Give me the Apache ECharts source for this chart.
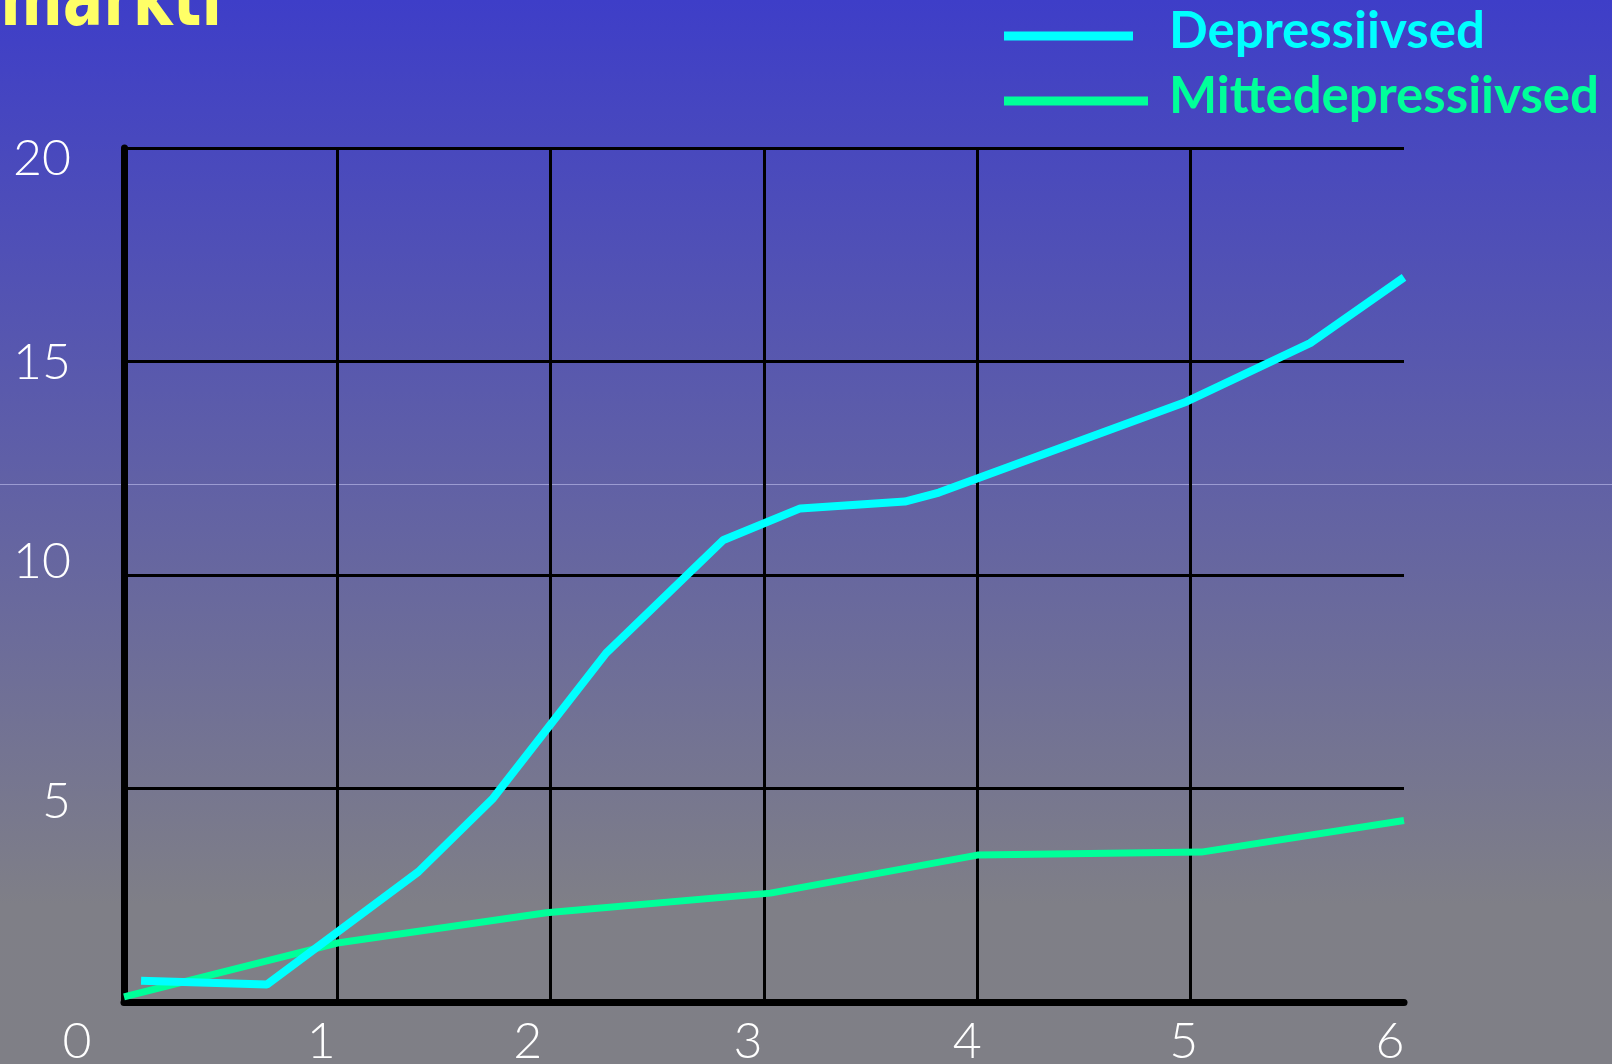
<!DOCTYPE html>
<html>
<head>
<meta charset="utf-8">
<script src="https://cdn.jsdelivr.net/npm/echarts@6/dist/echarts.min.js"></script>
<style>
  html, body { margin: 0; padding: 0; }
  #chart1 { width: 1612px; height: 1064px; }
</style>
</head>
<body>
<div id="chart1"></div>
<script>
// 数据
var seriesNames = ['Depressiivsed', 'Mittedepressiivsed'];
var depressiivsed = [
    [0.08, 0.50], [0.67, 0.41], [1.38, 3.05], [1.73, 4.77], [2.26, 8.17],
    [2.81, 10.82], [3.17, 11.56], [3.66, 11.72], [3.82, 11.93], [4.98, 14.06],
    [5.56, 15.43], [6.00, 16.97]
];
var mittedepressiivsed = [
    [0.00, 0.12], [1.00, 1.38], [1.98, 2.09], [3.03, 2.55], [4.00, 3.44],
    [5.05, 3.51], [6.00, 4.25]
];
var xTicks = [0, 1, 2, 3, 4, 5, 6];
var yTicks = [5, 10, 15, 20];

var numFont = 'Lato';

// 刻度标签的微调
var xShift = { 0: 94, 1: 32, 2: 46, 3: 32, 4: 20, 5: 14, 6: 28 };
var yShift = { 5: [27, 0, 0, 0], 10: [0, 0, 27, 0], 15: [3, 0, 0, 0], 20: [22, 0, 0, 0] };

var xRich = {};
xTicks.forEach(function (v) {
    xRich['x' + v] = {
        fontFamily: numFont, fontWeight: 300, fontSize: 50, color: '#ffffff',
        padding: [0, xShift[v], 0, 0]
    };
});
var yRich = {};
yTicks.forEach(function (v) {
    yRich['y' + v] = {
        fontFamily: numFont, fontWeight: 300, fontSize: 50, color: '#ffffff',
        padding: yShift[v]
    };
});

// 图例线条略低于文字
function barIcon(w) {
    return 'path://M0,0 M0,9 L' + w + ',9 L' + w + ',18 L0,18 Z';
}

var myChart = echarts.init(document.getElementById('chart1'));
myChart.setOption({
    animation: false,
    backgroundColor: {
        type: 'linear', x: 0, y: 0, x2: 0, y2: 1,
        colorStops: [
            { offset: 0, color: '#3e3ec8' },
            { offset: 0.85, color: '#7f7f87' },
            { offset: 1, color: '#7f7f86' }
        ]
    },
    graphic: [
        {
            type: 'rect', z: -1, silent: true,
            shape: { x: 0, y: 484, width: 1612, height: 1 },
            style: { fill: 'rgba(175,175,225,0.75)' }
        },
        {
            type: 'text', x: 222, y: 44, scaleX: 0.75,
            style: {
                text: 'markti',
                fill: '#ffff66',
                font: 'bold 80px "DejaVu Sans", sans-serif',
                textAlign: 'right',
                textVerticalAlign: 'bottom'
            }
        }
    ],
    // 图例
    legend: [
        {
            data: [seriesNames[0]],
            left: 1004, top: 6,
            icon: barIcon(129), itemWidth: 129, itemHeight: 18, itemGap: 0,
            textStyle: {
                color: '#00ffff', fontFamily: 'Lato', fontWeight: 'bold', fontSize: 51,
                padding: [0, 0, 0, 31]
            },
            padding: 0
        },
        {
            data: [seriesNames[1]],
            left: 1004, top: 71,
            icon: barIcon(144), itemWidth: 144, itemHeight: 18, itemGap: 0,
            textStyle: {
                color: '#00ff99', fontFamily: 'Lato', fontWeight: 'bold', fontSize: 51,
                padding: [0, 0, 0, 16]
            },
            padding: 0
        }
    ],
    grid: { left: 124, right: 208, top: 148, bottom: 62, outerBoundsMode: 'none' },
    // x轴
    xAxis: {
        type: 'value', min: 0, max: 6, interval: 1,
        axisLine: { show: true, lineStyle: { color: '#000', width: 7 } },
        axisTick: { show: false },
        splitLine: { show: true, showMaxLine: false, lineStyle: { color: '#000', width: 3 } },
        axisLabel: {
            margin: 15,
            fontFamily: numFont, fontWeight: 300, fontSize: 50, color: '#fff',
            formatter: function (v) { return '{x' + v + '|' + v + '}'; },
            rich: xRich
        }
    },
    // y轴
    yAxis: {
        type: 'value', min: 0, max: 20, interval: 5,
        axisLine: { show: true, lineStyle: { color: '#000', width: 7 } },
        axisTick: { show: false },
        splitLine: { show: true, lineStyle: { color: '#000', width: 3 } },
        axisLabel: {
            margin: 53, showMinLabel: false,
            fontFamily: numFont, fontWeight: 300, fontSize: 50, color: '#fff',
            formatter: function (v) { return '{y' + v + '|' + v + '}'; },
            rich: yRich
        }
    },
    // 数据
    series: [
        {
            name: seriesNames[1], type: 'line', data: mittedepressiivsed,
            showSymbol: false, symbol: 'none',
            color: '#00ff99',
            lineStyle: { color: '#00ff99', width: 7 }
        },
        {
            name: seriesNames[0], type: 'line', data: depressiivsed,
            showSymbol: false, symbol: 'none',
            color: '#00ffff',
            lineStyle: { color: '#00ffff', width: 8 }
        }
    ]
});
</script>
</body>
</html>
